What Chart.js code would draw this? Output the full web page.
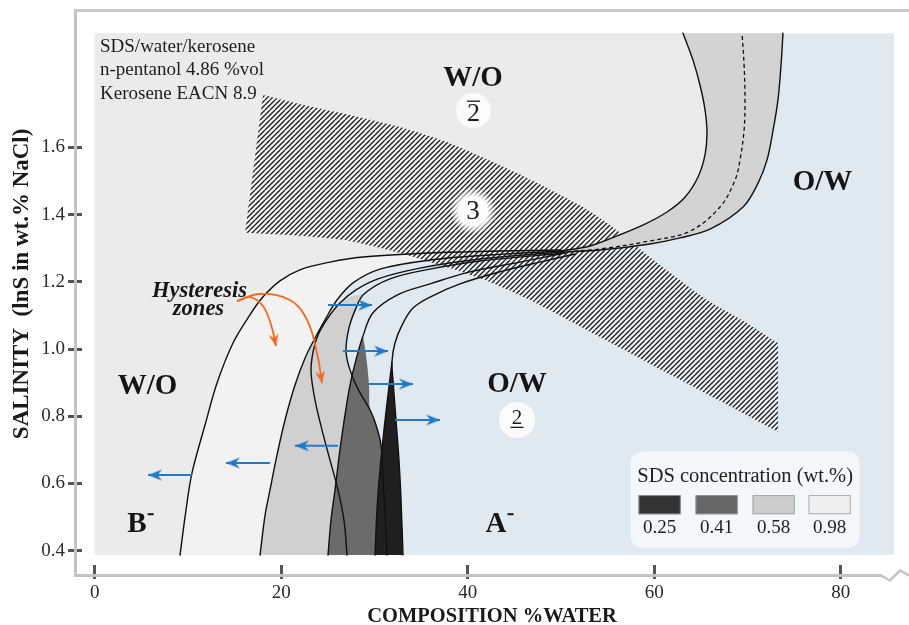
<!DOCTYPE html>
<html>
<head>
<meta charset="utf-8">
<script src="https://cdn.jsdelivr.net/npm/chart.js@4.4.1/dist/chart.umd.min.js"></script>
<style>
html,body{margin:0;padding:0;background:#ffffff;overflow:hidden;}
#wrap{width:909px;height:625px;}
canvas{display:block;}
</style>
</head>
<body>
<div id="wrap"><canvas id="chart" width="909" height="625"></canvas></div>
<script>
// ================= Values =================
const xTickValues = [0, 20, 40, 60, 80];
const yTickValues = [0.4, 0.6, 0.8, 1.0, 1.2, 1.4, 1.6];
const sdsLevels = ['0.25', '0.41', '0.58', '0.98'];
const noteLines = ['SDS/water/kerosene', 'n-pentanol 4.86 %vol', 'Kerosene EACN 8.9'];

// plotting panel (composition %water, salinity)
const panelX = [0, 85.71, 85.71, 0];
const panelY = [0.387, 0.387, 1.94, 1.94];

// boundary curves (composition %water, salinity lnS)
const curveA_x = [9.15, 9.79, 10.43, 11.83, 13.12, 14.83, 16.44, 17.94, 19.87, 22.01, 25.23, 28.77, 35.96, 43.46, 49.90];
const curveA_y = [0.387, 0.521, 0.631, 0.774, 0.899, 1.018, 1.093, 1.152, 1.203, 1.236, 1.259, 1.274, 1.286, 1.292, 1.295];
const curveB_x = [17.73, 18.27, 18.80, 19.55, 20.41, 21.48, 22.55, 23.63, 24.70, 25.98, 27.70, 30.59, 35.96, 42.39, 49.90];
const curveB_y = [0.387, 0.506, 0.581, 0.685, 0.789, 0.893, 0.973, 1.033, 1.087, 1.146, 1.197, 1.238, 1.265, 1.280, 1.292];
const curveC_x = [25.02, 25.34, 25.77, 26.30, 26.84, 27.38, 28.02, 28.77, 29.84, 32.42, 35.96, 40.24, 45.61, 50.43];
const curveC_y = [0.387, 0.491, 0.581, 0.700, 0.804, 0.893, 0.968, 1.039, 1.108, 1.161, 1.194, 1.230, 1.259, 1.286];
const curveD_x = [27.06, 26.73, 26.09, 25.23, 24.38, 23.63, 23.20, 23.41, 23.95, 25.02, 26.30, 28.02, 30.38, 34.88, 41.32, 49.90];
const curveD_y = [0.387, 0.491, 0.581, 0.670, 0.759, 0.848, 0.932, 0.991, 1.042, 1.093, 1.137, 1.176, 1.209, 1.241, 1.268, 1.289];
const curveE_x = [31.35, 31.13, 30.92, 30.70, 30.17, 29.52, 28.13, 27.27, 26.95, 27.27, 28.02, 28.88, 31.67, 35.96, 41.32, 50.43];
const curveE_y = [0.387, 0.521, 0.610, 0.715, 0.774, 0.819, 0.887, 0.947, 0.997, 1.063, 1.122, 1.164, 1.209, 1.238, 1.262, 1.286];
const curveF_x = [33.06, 32.85, 32.63, 32.31, 31.99, 31.88, 32.20, 32.97, 34.13, 35.96, 39.17, 43.46, 47.75, 51.50];
const curveF_y = [0.387, 0.551, 0.670, 0.789, 0.908, 0.962, 1.018, 1.072, 1.122, 1.155, 1.194, 1.230, 1.259, 1.283];
const curveG_x = [30.06, 30.27, 30.59, 31.02, 31.45, 31.88];
const curveG_y = [0.387, 0.521, 0.640, 0.759, 0.863, 0.962];
// upper branches
const upperL_x = [49.90, 53.11, 56.01, 59.01, 61.37, 63.30, 64.70, 65.45, 65.66, 65.45, 64.91, 64.16, 63.09];
const upperL_y = [1.292, 1.307, 1.337, 1.372, 1.408, 1.452, 1.512, 1.578, 1.643, 1.712, 1.786, 1.860, 1.94];
const upperM_x = [49.90, 54.19, 59.55, 63.84, 67.06, 68.67, 69.20, 69.64, 69.74, 69.64, 69.42];
const upperM_y = [1.289, 1.298, 1.322, 1.351, 1.423, 1.503, 1.563, 1.652, 1.741, 1.845, 1.94];
const upperR_x = [49.90, 54.19, 59.55, 62.77, 65.98, 69.53, 71.14, 72.10, 72.75, 73.27, 73.60, 73.81];
const upperR_y = [1.289, 1.295, 1.313, 1.331, 1.357, 1.423, 1.494, 1.563, 1.652, 1.741, 1.845, 1.94];

// hysteresis zones for each SDS concentration
const zone058_x = [17.73, 18.27, 18.80, 19.55, 20.41, 21.48, 22.55, 23.63, 24.70, 26.30, 27.59, 28.88, 28.88, 28.02, 27.27, 26.95, 27.27, 28.13, 29.52, 30.17, 30.70, 30.92, 31.13, 31.35];
const zone058_y = [0.387, 0.506, 0.581, 0.685, 0.789, 0.893, 0.973, 1.033, 1.087, 1.137, 1.158, 1.164, 1.164, 1.122, 1.063, 0.997, 0.947, 0.887, 0.819, 0.774, 0.715, 0.610, 0.521, 0.387];
const zone041_x = [25.02, 25.34, 25.77, 26.30, 26.84, 27.38, 28.02, 28.77, 28.77, 29.10, 29.42, 29.52, 30.17, 30.70, 30.92, 31.13, 31.35];
const zone041_y = [0.387, 0.491, 0.581, 0.700, 0.804, 0.893, 0.968, 1.039, 1.039, 0.982, 0.893, 0.819, 0.774, 0.715, 0.610, 0.521, 0.387];
const zone025_x = [30.06, 30.27, 30.59, 31.02, 31.45, 31.88, 31.88, 31.99, 32.31, 32.63, 32.85, 33.06];
const zone025_y = [0.387, 0.521, 0.640, 0.759, 0.863, 0.962, 0.962, 0.908, 0.789, 0.670, 0.551, 0.387];

// three-phase (hatched) band
const hatchTop_x = [18.05, 22.01, 27.38, 32.74, 38.10, 45.29, 52.36, 56.01, 60.62, 65.66, 69.74, 73.28];
const hatchTop_y = [1.756, 1.729, 1.697, 1.661, 1.613, 1.524, 1.423, 1.354, 1.250, 1.146, 1.081, 1.018];
const hatchBottom_x = [73.28, 67.06, 59.98, 54.19, 46.68, 42.39, 38.10, 32.74, 27.38, 22.01, 16.12];
const hatchBottom_y = [0.753, 0.846, 0.950, 1.036, 1.146, 1.200, 1.241, 1.286, 1.322, 1.337, 1.346];

// transition arrows
const blueArrowY = [1.131, 0.994, 0.896, 0.789, 0.712, 0.661, 0.625];
const blueArrowFrom = [25.02, 26.63, 29.42, 32.20, 26.09, 18.80, 10.43];
const blueArrowTo = [29.74, 31.45, 34.13, 37.03, 21.48, 14.08, 5.72];
const orange1_x = [15.26, 16.65, 18.05, 19.01, 19.44];
const orange1_y = [1.143, 1.155, 1.128, 1.063, 1.009];
const orange2_x = [15.26, 17.73, 20.94, 22.77, 23.84, 24.38];
const orange2_y = [1.143, 1.164, 1.146, 1.087, 0.988, 0.899];

// ================= styles =================
const serif = '"Liberation Serif", "Times New Roman", serif';
const zoneColors = ['#1f1f1f', '#6b6b6b', '#d0d0d0', '#f2f2f2'];
const legendColors = ['#333333', '#666666', '#cdcdcd', '#efefef'];
const blue = '#2279c6';
const orange = '#f26a25';

// ================= helpers =================
const pts = (xs, ys) => xs.map((x, i) => ({x: x, y: ys[i]}));
const rev = a => a.slice().reverse();
function poly(...pieces) {
  const out = [];
  pieces.forEach(p => { out.push(p[0], ...p, p[p.length - 1]); });
  return out;
}
function hatchPattern() {
  const c = document.createElement('canvas');
  c.width = 10; c.height = 10;
  const g = c.getContext('2d');
  g.fillStyle = 'rgba(255,255,255,0.4)';
  g.fillRect(0, 0, 10, 10);
  g.strokeStyle = '#1e1e1e'; g.lineWidth = 1.3;
  for (let a = -10; a <= 10; a += 5) {
    g.beginPath(); g.moveTo(a, 10); g.lineTo(a + 10, 0); g.stroke();
  }
  return g.createPattern(c, 'repeat');
}
function arrowHead(color, len, half) {
  const c = document.createElement('canvas');
  c.width = len * 2 + 2; c.height = half * 2 + 2;
  const g = c.getContext('2d');
  const cx = c.width / 2, cy = c.height / 2;
  g.fillStyle = color;
  g.beginPath();
  g.moveTo(cx, cy);
  g.lineTo(cx - len, cy - half);
  g.lineTo(cx - len * 0.68, cy);
  g.lineTo(cx - len, cy + half);
  g.closePath(); g.fill();
  return c;
}
const blueHead = arrowHead(blue, 14, 5.5);
const orangeHead = arrowHead(orange, 12, 5);

// ================= datasets =================
const areaBase = {showLine: true, pointRadius: 0, tension: 0.35, borderWidth: 0, fill: 'shape'};
const lineBase = {showLine: true, pointRadius: 0, tension: 0.35, borderWidth: 1.4, borderColor: '#111111', fill: false, borderCapStyle: 'round', borderJoinStyle: 'round', order: 20};

const A = pts(curveA_x, curveA_y), B = pts(curveB_x, curveB_y);
const UL = pts(upperL_x, upperL_y), UR = pts(upperR_x, upperR_y);

const datasets = [
  {...areaBase, data: pts(panelX, panelY), tension: 0, backgroundColor: '#e1e9f0', order: 100},
  {...areaBase, data: poly(pts([0, 0], [0.387, 1.94]), rev(UL), rev(A)), backgroundColor: '#ebebeb', order: 90},
  {...areaBase, data: poly(A, rev(B)), backgroundColor: zoneColors[3], order: 80},
  {...areaBase, data: poly(pts(hatchTop_x, hatchTop_y), pts(hatchBottom_x, hatchBottom_y)), tension: 0.2, backgroundColor: hatchPattern(), order: 70},
  {...areaBase, data: poly(UL, rev(UR)), backgroundColor: '#d3d3d3', order: 60},
  {...areaBase, data: pts(zone058_x, zone058_y), backgroundColor: zoneColors[2], order: 50},
  {...areaBase, data: pts(zone041_x, zone041_y), backgroundColor: zoneColors[1], order: 40},
  {...areaBase, data: pts(zone025_x, zone025_y), backgroundColor: zoneColors[0], order: 30},
  {...lineBase, data: A},
  {...lineBase, data: B},
  {...lineBase, data: pts(curveC_x, curveC_y)},
  {...lineBase, data: pts(curveD_x, curveD_y)},
  {...lineBase, data: pts(curveE_x, curveE_y)},
  {...lineBase, data: pts(curveF_x, curveF_y)},
  {...lineBase, data: pts(curveG_x, curveG_y)},
  {...lineBase, data: UL},
  {...lineBase, data: UR},
  {...lineBase, data: pts(upperM_x, upperM_y), borderDash: [4, 3], borderWidth: 1.3, borderCapStyle: 'butt'}
];
blueArrowY.forEach((yv, i) => {
  datasets.push({
    data: [{x: blueArrowFrom[i], y: yv}, {x: blueArrowTo[i], y: yv}],
    showLine: true, fill: false, tension: 0, borderColor: blue, borderWidth: 2,
    pointRadius: [0, 8], pointStyle: blueHead,
    pointRotation: blueArrowTo[i] > blueArrowFrom[i] ? 0 : 180, order: 10
  });
});
[[orange1_x, orange1_y, 78], [orange2_x, orange2_y, 80]].forEach(([xs, ys, rot]) => {
  datasets.push({
    data: pts(xs, ys), showLine: true, fill: false, tension: 0.4,
    borderColor: orange, borderWidth: 1.8,
    pointRadius: xs.map((v, i) => i === xs.length - 1 ? 8 : 0),
    pointStyle: orangeHead, pointRotation: rot, order: 10
  });
});

// ================= text annotations (data coordinates) =================
const noteAnchor = {x: 0.57, y: [1.884, 1.817, 1.743]};
const regionLabels = [
  {text: 'W/O', x: 40.57, y: 1.783},
  {text: 'O/W', x: 78.05, y: 1.473},
  {text: 'O/W', x: 45.29, y: 0.873},
  {text: 'W/O', x: 5.66, y: 0.866},
  {text: 'B', x: 4.54, y: 0.455, sup: true},
  {text: 'A', x: 43.04, y: 0.455, sup: true}
];
const phaseBadges = [
  {text: '2', x: 40.62, y: 1.710, r: 17.5, size: 26, dy: 3.5, bar: -10},
  {text: '3', x: 40.57, y: 1.411, r: 23, size: 27, dy: 1, soft: true},
  {text: '2', x: 45.29, y: 0.789, r: 18, size: 21, dy: -2, bar: 6.7}
];
const legendAnchor = {x: 57.47, y: 0.696};

function roundRect(ctx, x, y, w, h, r) {
  ctx.beginPath();
  ctx.moveTo(x + r, y);
  ctx.arcTo(x + w, y, x + w, y + h, r);
  ctx.arcTo(x + w, y + h, x, y + h, r);
  ctx.arcTo(x, y + h, x, y, r);
  ctx.arcTo(x, y, x + w, y, r);
  ctx.closePath();
}

const decorations = {
  id: 'decorations',
  afterDatasetsDraw(chart) {
    const ctx = chart.ctx;
    const sx = chart.scales.x, sy = chart.scales.y;
    const X = v => sx.getPixelForValue(v), Y = v => sy.getPixelForValue(v);
    ctx.save();
    // phase number badges
    phaseBadges.forEach(b => {
      const cx = X(b.x), cy = Y(b.y);
      if (b.soft) {
        const g = ctx.createRadialGradient(cx, cy, 0, cx, cy, b.r);
        g.addColorStop(0, 'rgba(255,255,255,1)');
        g.addColorStop(0.62, 'rgba(255,255,255,0.97)');
        g.addColorStop(1, 'rgba(255,255,255,0)');
        ctx.fillStyle = g;
      } else {
        ctx.fillStyle = '#fbfbfb';
      }
      ctx.beginPath(); ctx.arc(cx, cy, b.r, 0, Math.PI * 2); ctx.fill();
      ctx.fillStyle = '#1a1a1a';
      ctx.font = b.size + 'px ' + serif;
      ctx.textAlign = 'center'; ctx.textBaseline = 'middle';
      ctx.fillText(b.text, cx, cy + b.dy);
      if (b.bar !== undefined) ctx.fillRect(cx - 6.5, cy + b.bar, 13, 1.3);
    });
    // notes
    ctx.fillStyle = '#1e1e1e';
    ctx.font = '19px ' + serif;
    ctx.textAlign = 'left'; ctx.textBaseline = 'alphabetic';
    noteLines.forEach((t, i) => ctx.fillText(t, X(noteAnchor.x), Y(noteAnchor.y[i])));
    // region labels
    ctx.fillStyle = '#151515';
    ctx.font = 'bold 29px ' + serif;
    ctx.textAlign = 'center';
    regionLabels.forEach(l => {
      const px = X(l.x), py = Y(l.y);
      ctx.fillText(l.text, px, py);
      if (l.sup) {
        const w = ctx.measureText(l.text).width;
        ctx.fillRect(px + w / 2 + 1, py - 19, 6, 2);
      }
    });
    // hysteresis label
    ctx.font = 'italic bold 22.5px ' + serif;
    ctx.fillText('Hysteresis', X(11.24), Y(1.156));
    ctx.fillText('zones', X(11.13), Y(1.101));
    // legend
    const lx = X(legendAnchor.x), ly = Y(legendAnchor.y);
    const w = 229, h = 97;
    ctx.fillStyle = '#f4f7f9';
    roundRect(ctx, lx, ly, w, h, 12); ctx.fill();
    ctx.fillStyle = '#1e1e1e';
    ctx.font = '20.5px ' + serif;
    ctx.textAlign = 'center';
    ctx.fillText('SDS concentration (wt.%)', lx + w / 2, ly + 31);
    const offs = [8, 65, 122, 178];
    sdsLevels.forEach((lab, i) => {
      ctx.fillStyle = legendColors[i];
      ctx.fillRect(lx + offs[i], ly + 44, 42, 19);
      ctx.strokeStyle = '#9a9a9a'; ctx.lineWidth = 0.8;
      ctx.strokeRect(lx + offs[i] + 0.4, ly + 44.4, 41.2, 18.2);
      ctx.fillStyle = '#1e1e1e';
      ctx.font = '19px ' + serif;
      ctx.fillText(lab, lx + offs[i] + 21, ly + 82);
    });
    ctx.restore();
  },
  afterDraw(chart) {
    // axis break mark at the right end of the x axis
    const ctx = chart.ctx;
    const yb = chart.scales.x.top + 0.5;
    const xr = chart.chartArea.right;
    ctx.save();
    ctx.fillStyle = '#ffffff';
    ctx.fillRect(xr - 27, yb - 3, 27, 6);
    ctx.strokeStyle = '#c3c3c3'; ctx.lineWidth = 2.5; ctx.lineJoin = 'miter';
    ctx.beginPath();
    ctx.moveTo(xr - 28, yb); ctx.lineTo(xr - 19, yb + 5); ctx.lineTo(xr - 9, yb - 5); ctx.lineTo(xr, yb);
    ctx.stroke();
    ctx.restore();
  }
};

new Chart(document.getElementById('chart'), {
  type: 'scatter',
  data: {datasets: datasets},
  options: {
    responsive: false, animation: false, devicePixelRatio: 1, events: [],
    layout: {padding: 0, autoPadding: false},
    plugins: {legend: {display: false}, tooltip: {enabled: false}},
    scales: {
      x: {
        type: 'linear', position: 'bottom', min: -2.1126, max: 87.324,
        afterBuildTicks: s => { s.ticks = xTickValues.map(v => ({value: v})); },
        afterFit: s => { s.height = 50; },
        ticks: {font: {family: serif, size: 19}, color: '#2a2a2a', padding: 3, maxRotation: 0, autoSkip: false},
        grid: {display: true, drawOnChartArea: true, drawTicks: true, tickLength: 4, color: '#555555', lineWidth: 3, tickColor: '#555555', tickWidth: 3},
        border: {display: true, color: '#c3c3c3', width: 3, dash: [9, 1000], dashOffset: 454},
        title: {display: true, text: 'COMPOSITION %WATER', color: '#1a1a1a', font: {family: serif, size: 20.5, weight: 'bold', lineHeight: 0.8}, padding: {top: 0, bottom: 0}}
      },
      y: {
        type: 'linear', position: 'left', min: 0.32768, max: 2.00923,
        afterBuildTicks: s => { s.ticks = yTickValues.map(v => ({value: v})); },
        afterFit: s => { s.width = 75; },
        ticks: {font: {family: serif, size: 19, lineHeight: 0.6}, color: '#2a2a2a', padding: 3, callback: v => Number(v).toFixed(1)},
        grid: {display: true, drawOnChartArea: true, drawTicks: true, tickLength: 7, color: '#555555', lineWidth: 3, tickColor: '#555555', tickWidth: 3},
        border: {display: true, color: '#c3c3c3', width: 3, dash: [5, 2000], dashOffset: 0},
        title: {display: true, text: '   SALINITY  (lnS in wt.% NaCl)', color: '#1a1a1a', font: {family: serif, size: 23, weight: 'bold', lineHeight: 1.2}, padding: {top: 8, bottom: 0}}
      },
      x2: {
        type: 'linear', position: 'top', display: true,
        afterFit: s => { s.height = 10; },
        ticks: {display: false},
        grid: {display: false, drawTicks: false},
        border: {display: true, color: '#c8c8c8', width: 3}
      }
    }
  },
  plugins: [decorations]
});
</script>
</body>
</html>
